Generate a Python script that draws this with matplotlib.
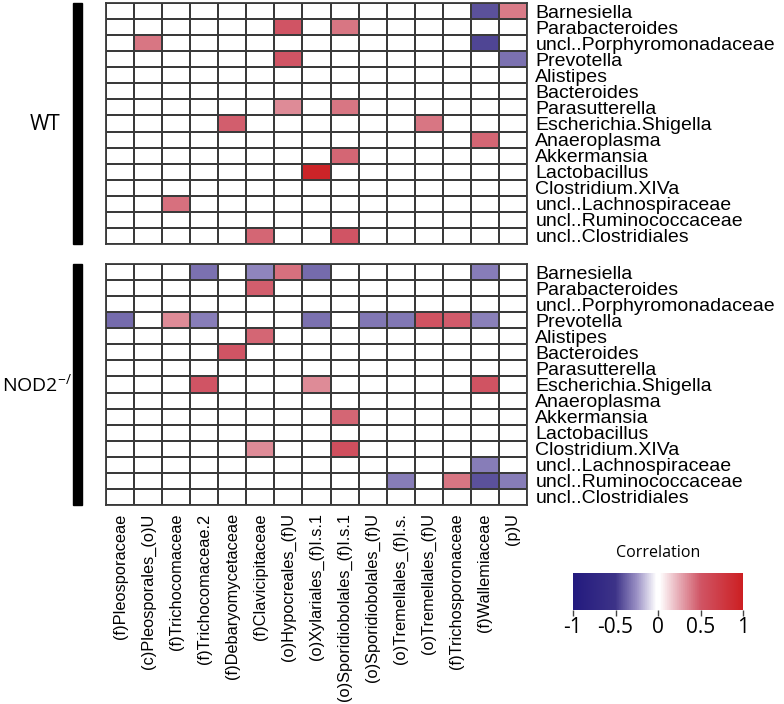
import numpy as np
import matplotlib
matplotlib.use("Agg")
import matplotlib.pyplot as plt
from matplotlib.colors import LinearSegmentedColormap
from matplotlib.patches import Rectangle

# row (bacteria) and column (fungi) names
bacteria = ["Barnesiella", "Parabacteroides", "uncl..Porphyromonadaceae", "Prevotella",
            "Alistipes", "Bacteroides", "Parasutterella", "Escherichia.Shigella",
            "Anaeroplasma", "Akkermansia", "Lactobacillus", "Clostridium.XIVa",
            "uncl..Lachnospiraceae", "uncl..Ruminococcaceae", "uncl..Clostridiales"]
fungi = ["(f)Pleosporaceae", "(c)Pleosporales_(o)U", "(f)Trichocomaceae",
         "(f)Trichocomaceae.2", "(f)Debaryomycetaceae", "(f)Clavicipitaceae",
         "(o)Hypocreales_(f)U", "(o)Xylariales_(f)I.s.1", "(o)Sporidiobolales_(f)I.s.1",
         "(o)Sporidiobolales_(f)U", "(o)Tremellales_(f)I.s.", "(o)Tremellales_(f)U",
         "(f)Trichosporonaceae", "(f)Wallemiaceae", "(p)U"]

# correlations (0 = not significant)
wt_corr = [
    [0, 0, 0, 0, 0, 0, 0, 0, 0, 0, 0, 0, 0, -0.42, 0.39],
    [0, 0, 0, 0, 0, 0, 0.5, 0, 0.4, 0, 0, 0, 0, 0, 0],
    [0, 0.4, 0, 0, 0, 0, 0, 0, 0, 0, 0, 0, 0, -0.45, 0],
    [0, 0, 0, 0, 0, 0, 0.5, 0, 0, 0, 0, 0, 0, 0, -0.33],
    [0, 0, 0, 0, 0, 0, 0, 0, 0, 0, 0, 0, 0, 0, 0],
    [0, 0, 0, 0, 0, 0, 0, 0, 0, 0, 0, 0, 0, 0, 0],
    [0, 0, 0, 0, 0, 0, 0.34, 0, 0.4, 0, 0, 0, 0, 0, 0],
    [0, 0, 0, 0, 0.47, 0, 0, 0, 0, 0, 0, 0.4, 0, 0, 0],
    [0, 0, 0, 0, 0, 0, 0, 0, 0, 0, 0, 0, 0, 0.45, 0],
    [0, 0, 0, 0, 0, 0, 0, 0, 0.45, 0, 0, 0, 0, 0, 0],
    [0, 0, 0, 0, 0, 0, 0, 0.95, 0, 0, 0, 0, 0, 0, 0],
    [0, 0, 0, 0, 0, 0, 0, 0, 0, 0, 0, 0, 0, 0, 0],
    [0, 0, 0.42, 0, 0, 0, 0, 0, 0, 0, 0, 0, 0, 0, 0],
    [0, 0, 0, 0, 0, 0, 0, 0, 0, 0, 0, 0, 0, 0, 0],
    [0, 0, 0, 0, 0, 0.45, 0, 0, 0.5, 0, 0, 0, 0, 0, 0],
]
nod2_corr = [
    [0, 0, 0, -0.33, 0, -0.28, 0.42, -0.35, 0, 0, 0, 0, 0, -0.3, 0],
    [0, 0, 0, 0, 0, 0.47, 0, 0, 0, 0, 0, 0, 0, 0, 0],
    [0, 0, 0, 0, 0, 0, 0, 0, 0, 0, 0, 0, 0, 0, 0],
    [-0.35, 0, 0.34, -0.3, 0, 0, 0, -0.33, 0, -0.32, -0.32, 0.52, 0.48, -0.29, 0],
    [0, 0, 0, 0, 0, 0.45, 0, 0, 0, 0, 0, 0, 0, 0, 0],
    [0, 0, 0, 0, 0.5, 0, 0, 0, 0, 0, 0, 0, 0, 0, 0],
    [0, 0, 0, 0, 0, 0, 0, 0, 0, 0, 0, 0, 0, 0, 0],
    [0, 0, 0, 0.5, 0, 0, 0, 0.34, 0, 0, 0, 0, 0, 0.52, 0],
    [0, 0, 0, 0, 0, 0, 0, 0, 0, 0, 0, 0, 0, 0, 0],
    [0, 0, 0, 0, 0, 0, 0, 0, 0.45, 0, 0, 0, 0, 0, 0],
    [0, 0, 0, 0, 0, 0, 0, 0, 0, 0, 0, 0, 0, 0, 0],
    [0, 0, 0, 0, 0, 0.34, 0, 0, 0.55, 0, 0, 0, 0, 0, 0],
    [0, 0, 0, 0, 0, 0, 0, 0, 0, 0, 0, 0, 0, -0.3, 0],
    [0, 0, 0, 0, 0, 0, 0, 0, 0, 0, -0.3, 0, 0.4, -0.42, -0.3],
    [0, 0, 0, 0, 0, 0, 0, 0, 0, 0, 0, 0, 0, 0, 0],
]
cb_ticks = [-1, -0.5, 0, 0.5, 1]
cb_labels = ["-1", "-0.5", "0", "0.5", "1"]

plt.rcParams['font.family'] = ['Liberation Sans', 'DejaVu Sans']
label_font = ["Open Sans", "DejaVu Sans"]

W, H = 784, 704
cmap = LinearSegmentedColormap.from_list(
    "corr", [(0, "#231a7e"), (0.25, "#3d3388"), (0.375, "#9a90c4"),
             (0.49, "#ffffff"), (0.51, "#ffffff"), (0.625, "#e6aab4"),
             (0.75, "#d05565"), (1, "#cc1f22")])

fig = plt.figure(figsize=(W / 100, H / 100), dpi=100)


def px_axes(x0, y0, x1, y1):
    return fig.add_axes([x0 / W, 1 - y1 / H, (x1 - x0) / W, (y1 - y0) / H])


def draw_block(ax, data):
    arr = np.array(data, dtype=float)
    mesh = ax.pcolormesh(arr, cmap=cmap, vmin=-1, vmax=1,
                         edgecolors="#3a3a3a", linewidth=1.3)
    ax.set_xlim(0, arr.shape[1])
    ax.set_ylim(arr.shape[0], 0)
    ax.yaxis.tick_right()
    ax.set_yticks(np.arange(len(bacteria)) + 0.5)
    ax.set_yticklabels(bacteria, fontsize=14)
    ax.tick_params(axis="y", length=0, pad=6)
    for s in ax.spines.values():
        s.set_color("#3a3a3a")
        s.set_linewidth(1.3)
    return mesh


ax_wt = px_axes(106, 3, 527, 244)
draw_block(ax_wt, wt_corr)
ax_wt.set_xticks([])

ax_nod = px_axes(106, 264, 527, 505)
mesh = draw_block(ax_nod, nod2_corr)
ax_nod.set_xticks(np.arange(len(fungi)) + 0.5)
ax_nod.set_xticklabels(fungi, rotation=90, fontsize=11.8)
ax_nod.tick_params(axis="x", length=0, pad=6)

# group bars and labels
fig.add_artist(Rectangle((73 / W, 1 - 244 / H), 9 / W, 241 / H,
                         transform=fig.transFigure, color="black"))
fig.add_artist(Rectangle((73 / W, 1 - 505 / H), 9 / W, 241 / H,
                         transform=fig.transFigure, color="black"))
fig.text(45 / W, 1 - 125 / H, "WT", ha="center", va="center",
         fontsize=15, family=label_font)
fig.text(2 / W, 1 - 385 / H, r"NOD2$^{\mathregular{-/-}}$", ha="left", va="center",
         fontsize=14, family=label_font)

# colorbar
cax = px_axes(573, 573, 743, 610)
cb = fig.colorbar(mesh, cax=cax, orientation="horizontal", ticks=cb_ticks)
cb.outline.set_visible(False)
cb.ax.set_xticklabels(cb_labels, family=label_font, fontsize=15)
cb.ax.tick_params(length=4, width=1, pad=1, color="#444444")
fig.text(658 / W, 1 - 553 / H, "Correlation", ha="center", va="center",
         fontsize=11.5, family=label_font)

fig.savefig("out.png", dpi=100)
